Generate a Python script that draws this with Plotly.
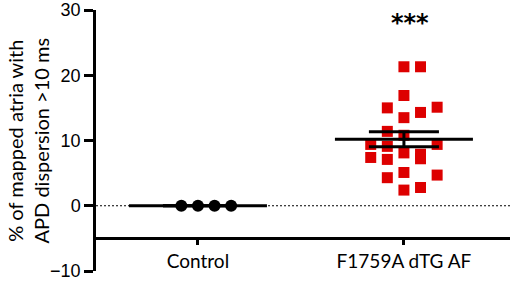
import numpy as np
import plotly.graph_objects as go

# ---- data ----
groups = ["Control", "F1759A dTG AF"]
group_pos = [0, 1]
control_values = [0, 0, 0, 0]
control_cols = [-1, 0, 1, 2]
dtg_values = [21.3, 21.3, 16.9, 15.0, 14.3, 15.1, 13.5, 11.4, 10.8, 9.4, 9.1,
              9.4, 8.1, 7.9, 7.2, 7.4, 7.1, 4.3, 5.1, 4.7, 2.4, 2.8]
dtg_cols = [0, 1, 0, -1, 1, 2, 0, -1, 0, -2, -1, 2, 0, 1, 1, -2, -1, -1, 0, 2, 0, 1]
y_ticks = [-10, 0, 10, 20, 30]
significance = "***"
y_title = "% of mapped atria with<br>APD dispersion >10 ms"

# ---- style constants ----
COL_STEP = 0.0806      # horizontal spacing of point columns (category units)
MEAN_HALF = 0.335      # half-width of mean line
SEM_HALF = 0.17        # half-width of SEM caps
X_RANGE = [-0.495, 1.515]
Y_RANGE = [-10, 30]
X_AXIS_AT = -5
RED = "#DD0000"

fig = go.Figure()

# dotted zero reference line
fig.add_shape(type="line", xref="x", yref="y", x0=X_RANGE[0], x1=X_RANGE[1], y0=0, y1=0,
              line=dict(color="black", width=1.2, dash="2px,2px"), layer="below")

# points
fig.add_trace(go.Scatter(
    x=[group_pos[0] + c * COL_STEP for c in control_cols], y=control_values,
    mode="markers", marker=dict(symbol="circle", size=12, color="black"),
    showlegend=False, hoverinfo="skip"))
fig.add_trace(go.Scatter(
    x=[group_pos[1] + c * COL_STEP for c in dtg_cols], y=dtg_values,
    mode="markers", marker=dict(symbol="square", size=11, color=RED, line=dict(width=0)),
    showlegend=False, hoverinfo="skip"))

# mean +/- SEM
for g, vals in zip(group_pos, [control_values, dtg_values]):
    v = np.array(vals, dtype=float)
    m = v.mean()
    sem = v.std(ddof=1) / np.sqrt(len(v))
    xs = [g - MEAN_HALF, g + MEAN_HALF, None,
          g - SEM_HALF, g + SEM_HALF, None,
          g - SEM_HALF, g + SEM_HALF, None,
          g, g]
    ys = [m, m, None, m + sem, m + sem, None, m - sem, m - sem, None, m - sem, m + sem]
    fig.add_trace(go.Scatter(x=xs, y=ys, mode="lines",
                             line=dict(color="black", width=3),
                             showlegend=False, hoverinfo="skip"))

# significance stars
fig.add_annotation(x=group_pos[1], y=28, xref="x", yref="y", text="<b>" + significance + "</b>",
                   showarrow=False, xshift=6,
                   font=dict(family="DejaVu Sans", size=24, color="black"))

# y axis title
fig.add_annotation(x=-69 / 414, y=0.5, xref="paper", yref="paper", text=y_title,
                   textangle=-90, showarrow=False, xanchor="center", yanchor="middle",
                   font=dict(family="Lato", size=20, color="black"))

fig.update_layout(
    width=510, height=281,
    margin=dict(l=96, r=0, t=9, b=8),
    plot_bgcolor="white", paper_bgcolor="white",
    showlegend=False,
    xaxis=dict(range=X_RANGE, tickvals=group_pos, ticktext=groups,
               showgrid=False, zeroline=False, showline=True, linecolor="black",
               linewidth=2.5, ticks="outside", ticklen=5, tickwidth=2.5, tickcolor="black",
               anchor="free", position=(X_AXIS_AT - Y_RANGE[0]) / (Y_RANGE[1] - Y_RANGE[0]),
               ticklabeloverflow="allow",
               tickfont=dict(family="Lato", size=19, color="black")),
    yaxis=dict(range=Y_RANGE, tickvals=y_ticks, showgrid=False, zeroline=False,
               showline=True, linecolor="black", linewidth=2.5, ticks="outside",
               ticklen=9, tickwidth=2.5, tickcolor="black", ticklabeloverflow="allow",
               tickfont=dict(family="Liberation Sans", size=18, color="black")),
)

fig.write_html("out.html", config={"displayModeBar": False},
               post_script="document.body.style.margin='0';document.body.style.overflow='hidden';")
